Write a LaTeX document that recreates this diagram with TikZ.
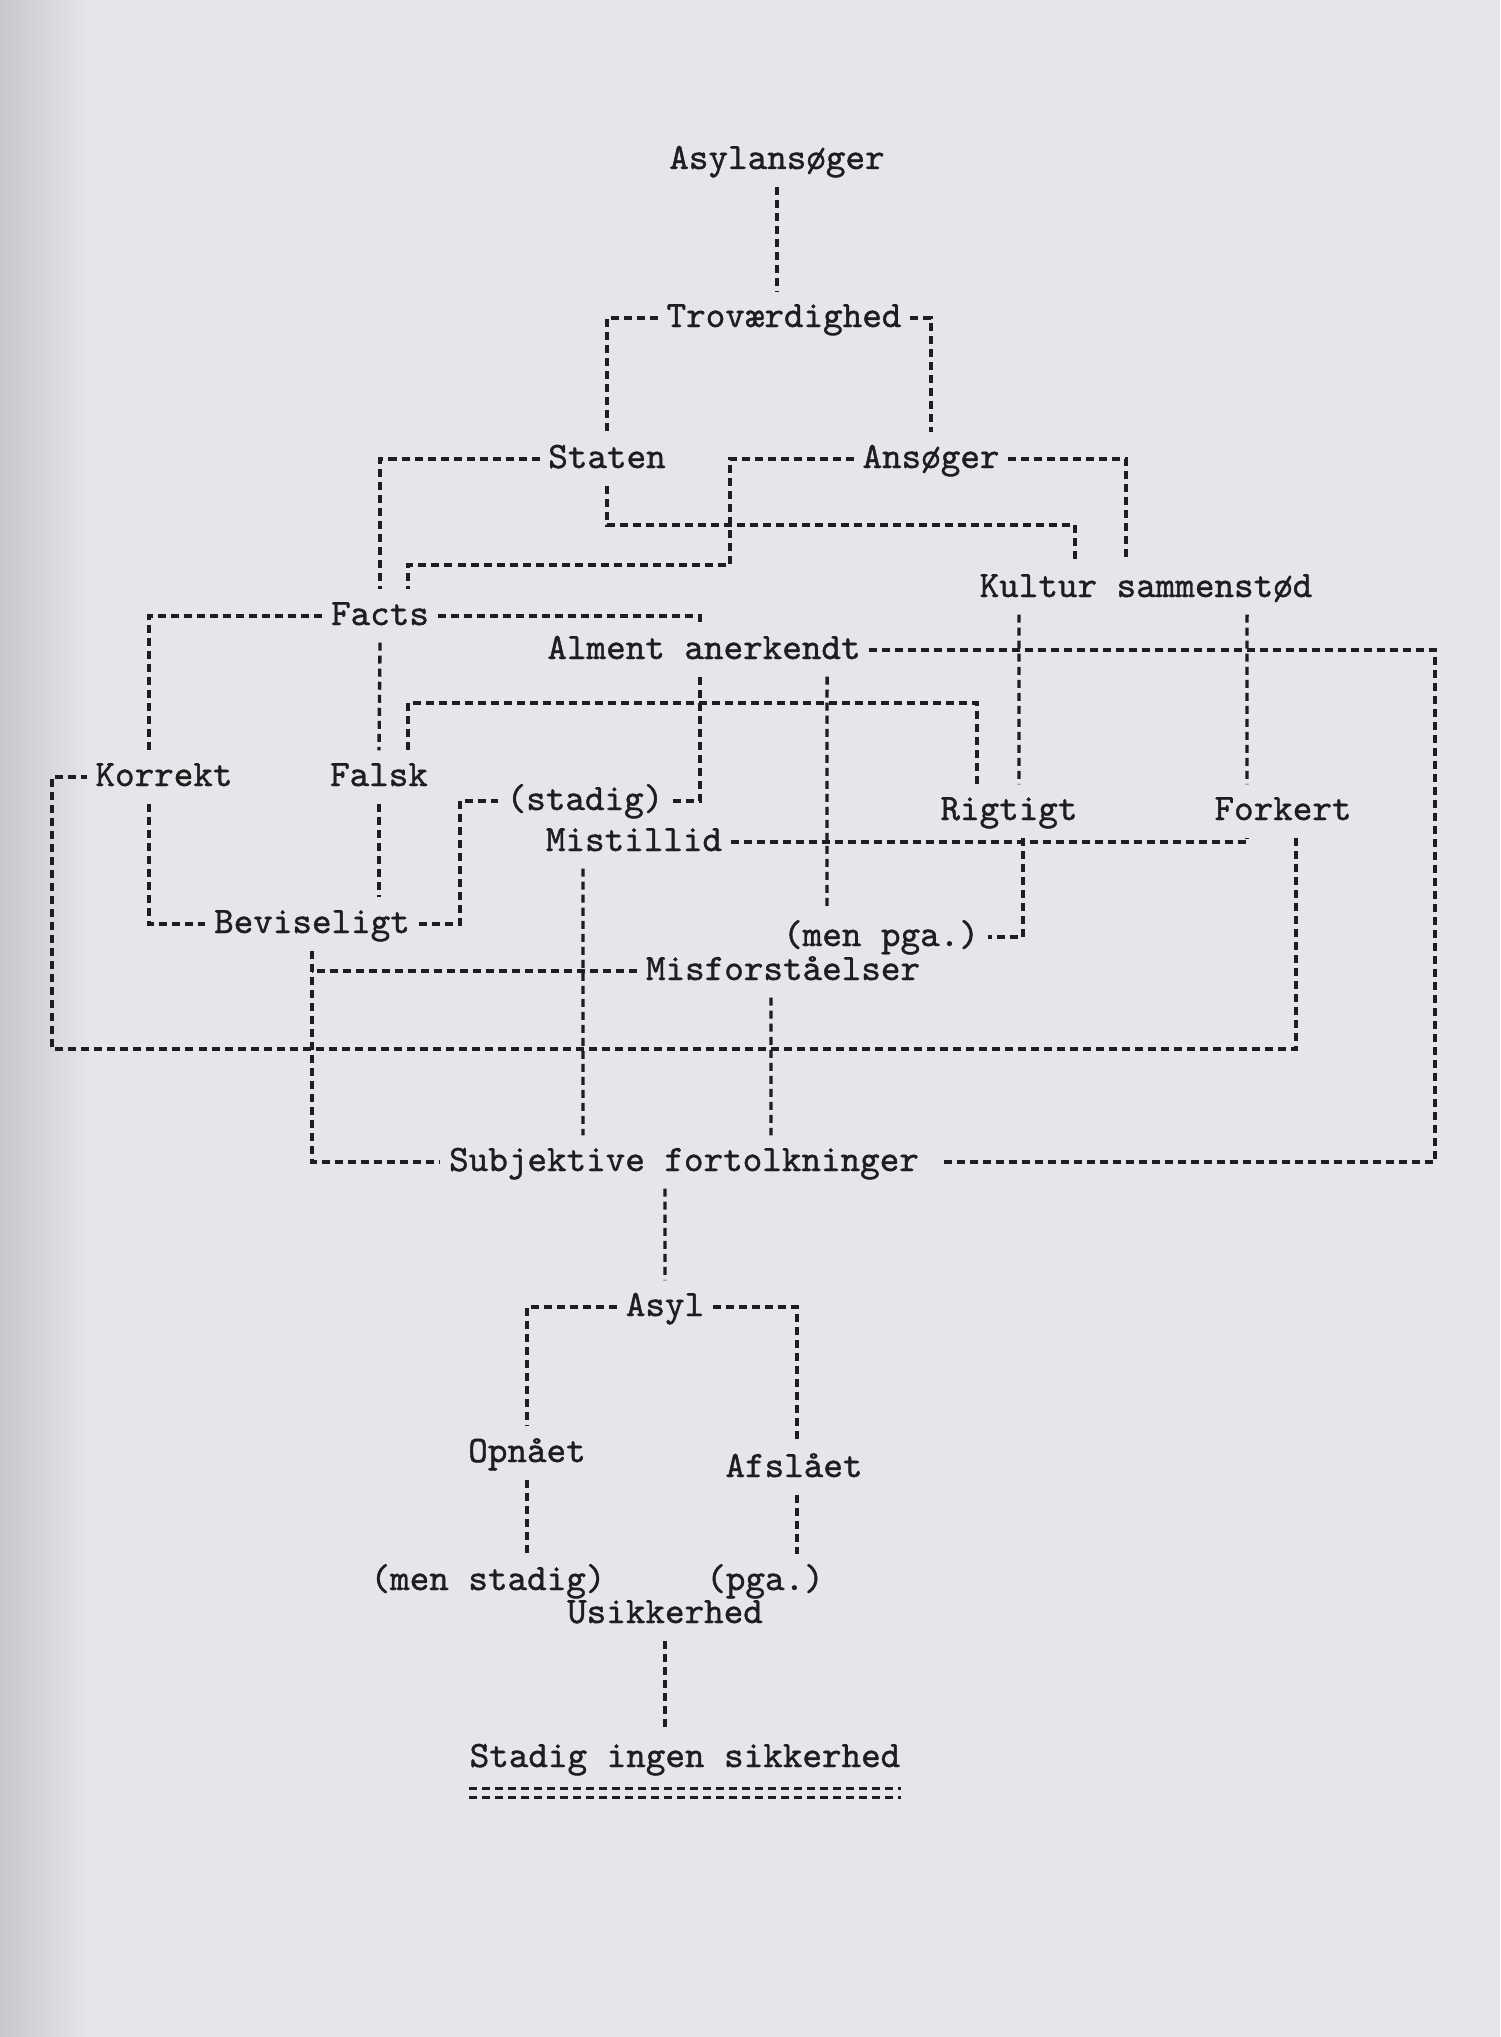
\documentclass[tikz,border=0pt]{standalone}
\usepackage{fontspec}
\usepackage{tikz}
\usetikzlibrary{calc}
\newfontfamily\typew{lmmono10-regular.otf}[FakeBold=1.1]
\definecolor{paper}{HTML}{E4E6EA}
\definecolor{papershade}{HTML}{C6C8CD}
\definecolor{ink}{HTML}{1E1E1E}
\tikzset{
  word/.style={font=\typew\fontsize{10.6}{12}\selectfont,text=ink,inner xsep=0.08cm,inner ysep=0.1cm,text height=0.25cm,text depth=0.07cm},
  dl/.style={ink,line width=0.95pt,dash pattern=on 0.08cm off 0.05cm}
}

\begin{document}
\begin{tikzpicture}[x=0.01cm,y=-0.01cm]
\fill[paper] (0,0) rectangle (1500,2037);
\shade[left color=papershade,right color=paper] (0,0) rectangle (90,2037);
\useasboundingbox (0,0) rectangle (1500,2037);

\node[word] (asylansoger) at (777,160) {Asylansøger};
\node[word] (trov) at (784,318) {Troværdighed};
\node[word] (staten) at (607,459) {Staten};
\node[word] (ansoger) at (931,459) {Ansøger};
\node[word] (kultur) at (1146,588) {Kultur sammenstød};
\node[word] (facts) at (380,616) {Facts};
\node[word] (alment) at (704,650) {Alment anerkendt};
\node[word] (korrekt) at (164,777) {Korrekt};
\node[word] (falsk) at (379,777) {Falsk};
\node[word] (stadig) at (585,801) {(stadig)};
\node[word] (mistillid) at (634,842) {Mistillid};
\node[word] (rigtigt) at (1009,811) {Rigtigt};
\node[word] (forkert) at (1283,811) {Forkert};
\node[word] (beviseligt) at (312,924) {Beviseligt};
\node[word] (menpga) at (881,937) {(men pga.)};
\node[word] (misforst) at (783,971) {Misforståelser};
\node[word] (subj) at (684,1162) {Subjektive fortolkninger};
\node[word] (asyl) at (665,1307) {Asyl};
\node[word] (opnaet) at (527,1453) {Opnået};
\node[word] (afslaet) at (794,1468) {Afslået};
\node[word] (menstadig) at (488,1581) {(men stadig)};
\node[word] (pga) at (765,1581) {(pga.)};
\node[word] (usikkerhed) at (665,1614) {Usikkerhed};
\node[word] (stadigingen) at (685,1758) {Stadig ingen sikkerhed};

% kinks
\coordinate (sk) at (1075,525);
\coordinate (af1) at (730,565);
\coordinate (af2) at (408,565);
\coordinate (ar) at (1435,900);
\coordinate (fr) at (700,703);
\coordinate (fk) at (52,1049);

\draw[dl] (asylansoger.south) -- (asylansoger.south |- trov.north);
\draw[dl] (trov.west) -| (staten.north);
\draw[dl] (trov.east) -| (ansoger.north);
\draw[dl] (staten.west) -| (facts.north);
\draw[dl] (staten.south) |- (sk) -- (sk |- kultur.north);
\draw[dl] (ansoger.west) -| (af1) -- (af2) -- (af2 |- facts.north);
\draw[dl] (ansoger.east) -| ([xshift=-0.2cm]kultur.north);
\draw[dl] (facts.west) -| ([xshift=-0.15cm]korrekt.north);
\draw[dl] (facts.south) -- (falsk.north);
\draw[dl] (facts.east) -| ([xshift=-0.04cm]alment.north);
\draw[dl] ([xshift=-0.04cm]alment.south) |- (stadig.east);
\draw[dl] (alment.east) -| (ar) |- ([xshift=0.12cm]subj.east);
\draw[dl] ([xshift=1.23cm]alment.south) -- ([xshift=-0.54cm]menpga.north);
\draw[dl] ([xshift=0.29cm]falsk.north) |- (fr) -| ([xshift=-0.32cm]rigtigt.north);
\draw[dl] ([xshift=-1.27cm]kultur.south) -- ([xshift=0.1cm]rigtigt.north);
\draw[dl] ([xshift=1.01cm]kultur.south) -- ([xshift=-0.36cm]forkert.north);
\draw[dl] (mistillid.east) -| ([xshift=-0.36cm]forkert.south);
\draw[dl] ([xshift=0.14cm]rigtigt.south) |- (menpga.east);
\draw[dl] ([xshift=0.13cm]forkert.south) |- (fk) |- (korrekt.west);
\draw[dl] ([xshift=-0.15cm]korrekt.south) |- (beviseligt.west);
\draw[dl] (falsk.south) -- (falsk.south |- beviseligt.north);
\draw[dl] (beviseligt.east) -| ([xshift=-0.38cm]stadig.west) -- (stadig.west);
\draw[dl] ([xshift=-0.51cm]mistillid.south) -- ([xshift=-1.01cm]subj.north);
\draw[dl] (beviseligt.south) |- (subj.west);
\draw[dl] (misforst.west) -- (misforst.west -| beviseligt.south);
\draw[dl] ([xshift=-0.12cm]misforst.south) -- ([xshift=0.87cm]subj.north);
\draw[dl] ([xshift=-0.19cm]subj.south) -- (asyl.north);
\draw[dl] (asyl.west) -| (opnaet.north);
\draw[dl] (asyl.east) -| ([xshift=0.03cm]afslaet.north);
\draw[dl] (opnaet.south) -- (opnaet.south |- menstadig.north);
\draw[dl] ([xshift=0.03cm]afslaet.south) -- ([xshift=0.03cm]afslaet.south |- pga.north);
\draw[dl] (usikkerhed.south) -- (usikkerhed.south |- stadigingen.north);
% double underline
\draw[dl] ([xshift=0.08cm,yshift=-0.04cm]stadigingen.south west) -- ([xshift=-0.08cm,yshift=-0.04cm]stadigingen.south east);
\draw[dl] ([xshift=0.08cm,yshift=-0.13cm]stadigingen.south west) -- ([xshift=-0.08cm,yshift=-0.13cm]stadigingen.south east);
\end{tikzpicture}
\end{document}
